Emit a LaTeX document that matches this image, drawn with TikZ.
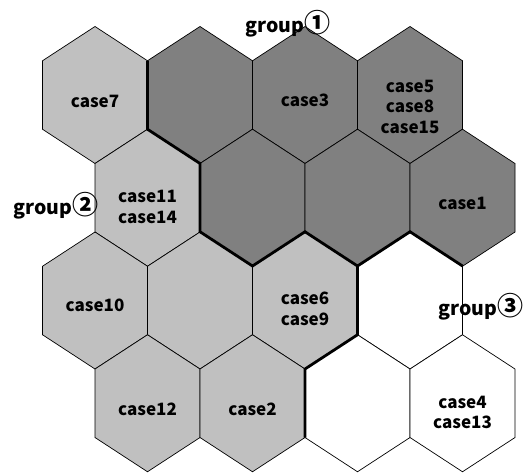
\documentclass[tikz,border=0pt]{standalone}
\usepackage{fontspec}
\newfontfamily\jpfont{Noto Sans CJK JP}
\definecolor{gdark}{HTML}{808080}
\definecolor{glight}{HTML}{C0C0C0}
\newcommand{\circd}[1]{{\fontsize{26}{26}\selectfont #1}}
\tikzset{
  caselbl/.style={font=\jpfont\bfseries\fontsize{17}{20.5}\selectfont, align=center, anchor=base, inner sep=0},
  grouplbl/.style={font=\jpfont\bfseries\fontsize{19.5}{24}\selectfont, anchor=base, inner sep=0},
  thin edge/.style={draw=black, line width=0.7pt, line join=miter},
  border/.style={draw=black, line width=2.8pt, line join=miter, line cap=butt},
}
\newcommand{\hexat}[3]{% x, y, fill colour
  \path[thin edge, fill=#3] (#1,#2-68.5) -- (#1+52.5,#2-34.25) -- (#1+52.5,#2+34.25) -- (#1,#2+68.5) -- (#1-52.5,#2+34.25) -- (#1-52.5,#2-34.25) -- cycle;}
\begin{document}
\begin{tikzpicture}[x=1pt,y=-1pt]
\useasboundingbox (0,0) rectangle (529,475);
% row 1
\hexat{95}{95}{glight}
\hexat{200}{95}{gdark}
\hexat{305}{95}{gdark}
\hexat{410}{95}{gdark}
% row 2
\hexat{147.5}{197.75}{glight}
\hexat{252.5}{197.75}{gdark}
\hexat{357.5}{197.75}{gdark}
\hexat{462.5}{197.75}{gdark}
% row 3
\hexat{95}{300.5}{glight}
\hexat{200}{300.5}{glight}
\hexat{305}{300.5}{glight}
\hexat{410}{300.5}{white}
% row 4
\hexat{147.5}{403.25}{glight}
\hexat{252.5}{403.25}{glight}
\hexat{357.5}{403.25}{white}
\hexat{462.5}{403.25}{white}
% group borders
\coordinate (b1) at (147.5,60.75);
\coordinate (b2) at (147.5,129.25);
\coordinate (b3) at (200,163.5);
\coordinate (b4) at (200,231.75);
\coordinate (b5) at (252.5,266);
\coordinate (b6) at (305,231.75);
\coordinate (b7) at (357.5,266);
\coordinate (b8) at (410,231.75);
\coordinate (b9) at (462.5,266);
\coordinate (c1) at (357.5,334.75);
\coordinate (c2) at (305,369);
\coordinate (c3) at (305,437.5);
\draw[border] (b1) -- (b2) -- (b3) -- (b4) -- (b5) -- (b6) -- (b7) -- (b8) -- (b9);
\draw[border] (b7) -- (c1) -- (c2) -- (c3);
% case labels (base = last line)
\node[caselbl] (case7) at (95,107) {case7};
\node[caselbl] (case3) at (305,106.5) {case3};
\node[caselbl] (case5) at (410,133) {case5\\case8\\case15};
\node[caselbl] (case11) at (147.5,223) {case11\\case14};
\node[caselbl] (case1) at (462.5,209) {case1};
\node[caselbl] (case10) at (95,311.5) {case10};
\node[caselbl] (case6) at (305,325) {case6\\case9};
\node[caselbl] (case12) at (147.5,415) {case12};
\node[caselbl] (case2) at (252.5,415) {case2};
\node[caselbl] (case4) at (462.5,428.5) {case4\\case13};
% group labels
\node[grouplbl] (g1) at (288,32) {group\circd{①}};
\node[grouplbl] (g2) at (56,214) {group\circd{②}};
\node[grouplbl] (g3) at (481,315) {group\circd{③}};
\end{tikzpicture}
\end{document}
